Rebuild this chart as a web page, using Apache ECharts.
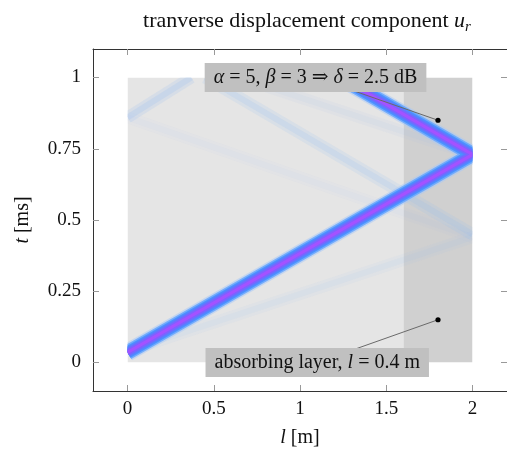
<!DOCTYPE html>
<html><head><meta charset="utf-8">
<script src="https://cdn.jsdelivr.net/npm/echarts@6/dist/echarts.min.js"></script>
<style>html,body{margin:0;padding:0;background:#fff}#c{width:507px;height:456px}</style>
</head><body><div id="c"></div>
<script>
// ---- data ----
const xTicks = [0, 0.5, 1, 1.5, 2];
const yTicks = [0, 0.25, 0.5, 0.75, 1];
const xRange = [-0.2, 2.2];
const yRange = [-0.1, 1.1];
const domainL = [0, 2];          // l extent of the field [m]
const domainT = [0, 1];          // t extent of the field [ms]
const layerStart = 1.6;          // absorbing layer starts [m]
// wavefronts: [l, t] vertices
const mainFront = [[0, 0.035], [2, 0.73], [1.12, 1.04]];
const faintFronts = [
  [[0, 0.04], [2, 0.44]],
  [[2, 0.44], [0, 0.86]],
  [[2, 0.45], [0.45, 1.0]],
  [[0, 0.86], [0.37, 1.0]],
  [[2, 0.73], [0.65, 1.0]]
];
const faintLevel = [0.08, 0.04, 0.16, 0.18, 0.07];
const pinPoints = [[1.8, 0.85], [1.8, 0.15]];
const pinLabelAt = [[1.09, 1.0], [1.1, 0.0]];
const pinTexts = ['{i|α} = 5, {i|β} = 3 ⇒ {i|δ} = 2.5 dB', 'absorbing layer, {i|l} = 0.4 m'];

const FONT = "'Liberation Serif', 'DejaVu Serif', serif";
const chart = echarts.init(document.getElementById('c'), null, {renderer: 'canvas'});

const mainLayers = [
  [18, 'rgba(165,200,250,0.5)'],
  [15, 'rgba(100,165,255,0.85)'],
  [12, '#4a90ff'],
  [9, '#5f78ff'],
  [6, '#8060ff'],
  [3, '#a452ff']
];

function fieldItem(params, api) {
  const tl = api.coord([domainL[0], domainT[1]]);
  const br = api.coord([domainL[1], domainT[0]]);
  const lay = api.coord([layerStart, domainT[0]]);
  const w = br[0] - tl[0], h = br[1] - tl[1];
  const children = [
    {type: 'rect', shape: {x: tl[0], y: tl[1], width: lay[0] - tl[0], height: h}, style: {fill: '#e5e5e5'}},
    {type: 'rect', shape: {x: lay[0], y: tl[1], width: br[0] - lay[0], height: h}, style: {fill: '#d0d0d0'}}
  ];
  faintFronts.forEach((f, i) => {
    const pts = f.map(p => api.coord(p));
    children.push({type: 'polyline', shape: {points: pts}, style: {stroke: 'rgba(150,190,245,' + faintLevel[i] + ')', lineWidth: 12, fill: null, lineCap: 'butt'}});
    children.push({type: 'polyline', shape: {points: pts}, style: {stroke: 'rgba(140,185,245,' + faintLevel[i] + ')', lineWidth: 6, fill: null, lineCap: 'butt'}});
  });
  const mp = mainFront.map(p => api.coord(p));
  mainLayers.forEach(([lw, c]) => {
    children.push({type: 'polyline', shape: {points: mp}, style: {stroke: c, lineWidth: lw, fill: null, lineJoin: 'miter', miterLimit: 10, lineCap: 'butt'}});
  });
  return {type: 'group', clipPath: {type: 'rect', shape: {x: tl[0], y: tl[1], width: w, height: h}}, children};
}

function pinItem(params, api) {
  const i = params.dataIndex;
  const d = api.coord([api.value(0), api.value(1)]);
  const lb = api.coord(pinLabelAt[i]);
  return {type: 'group', children: [
    {type: 'line', shape: {x1: d[0], y1: d[1], x2: lb[0], y2: lb[1]}, style: {stroke: '#6a6a6a', lineWidth: 1}},
    {type: 'text', x: lb[0], y: lb[1], style: {
      text: pinTexts[i], align: 'center', verticalAlign: 'middle',
      font: '20px ' + FONT, fill: '#111', backgroundColor: '#c0c0c0', padding: [5, 9, 4, 9],
      rich: {i: {fontStyle: 'italic', fontFamily: FONT, fontSize: 20}}
    }},
    {type: 'circle', shape: {cx: d[0], cy: d[1], r: 2.6}, style: {fill: '#000'}}
  ]};
}

const tickStyle = {show: true, inside: true, length: 6, lineStyle: {color: '#999', width: 1}};
const lineStyle = {show: true, onZero: false, lineStyle: {color: '#333', width: 1}};
const labStyle = {fontFamily: FONT, fontSize: 19, color: '#111'};

chart.setOption({
  backgroundColor: '#fff',
  animation: false,
  title: {
    text: 'tranverse displacement component {i|u}{s|r}',
    left: 302, top: 2, textAlign: 'center',
    textStyle: {fontFamily: FONT, fontSize: 22, fontWeight: 'normal', color: '#111',
      rich: {
        i: {fontFamily: FONT, fontSize: 22, fontStyle: 'italic', lineHeight: 28, verticalAlign: 'middle'},
        s: {fontFamily: FONT, fontSize: 15, fontStyle: 'italic', lineHeight: 14, verticalAlign: 'bottom'}
      }}
  },
  grid: {left: 93, top: 49, width: 415, height: 342, containLabel: false},
  xAxis: [
    {type: 'value', min: xRange[0], max: xRange[1], position: 'bottom',
     axisLine: lineStyle, splitLine: {show: false},
     axisTick: Object.assign({customValues: xTicks}, tickStyle),
     axisLabel: Object.assign({customValues: xTicks, margin: 9}, labStyle),
     name: '{i|l} [m]', nameLocation: 'middle', nameGap: 37,
     nameTextStyle: {fontFamily: FONT, fontSize: 20, color: '#111', rich: {i: {fontFamily: FONT, fontSize: 20, fontStyle: 'italic'}}}},
    {type: 'value', min: xRange[0], max: xRange[1], position: 'top',
     axisLine: lineStyle, splitLine: {show: false},
     axisTick: Object.assign({customValues: xTicks}, tickStyle),
     axisLabel: {show: false}}
  ],
  yAxis: [
    {type: 'value', min: yRange[0], max: yRange[1], position: 'left',
     axisLine: lineStyle, splitLine: {show: false},
     axisTick: Object.assign({customValues: yTicks}, tickStyle),
     axisLabel: Object.assign({customValues: yTicks, margin: 12}, labStyle),
     name: '{i|t} [ms]', nameLocation: 'middle', nameGap: 60, nameRotate: 90,
     nameTextStyle: {fontFamily: FONT, fontSize: 20, color: '#111', rich: {i: {fontFamily: FONT, fontSize: 20, fontStyle: 'italic'}}}},
    {type: 'value', min: yRange[0], max: yRange[1], position: 'right',
     axisLine: lineStyle, splitLine: {show: false},
     axisTick: Object.assign({customValues: yTicks}, tickStyle),
     axisLabel: {show: false}}
  ],
  series: [
    {type: 'custom', xAxisIndex: 0, yAxisIndex: 0, renderItem: fieldItem,
     data: [[domainL[0], domainT[0]]], encode: {x: 0, y: 1}, silent: true, z: 2},
    {type: 'custom', xAxisIndex: 0, yAxisIndex: 0, renderItem: pinItem,
     data: pinPoints, encode: {x: 0, y: 1}, silent: true, z: 5}
  ]
});
</script></body></html>
